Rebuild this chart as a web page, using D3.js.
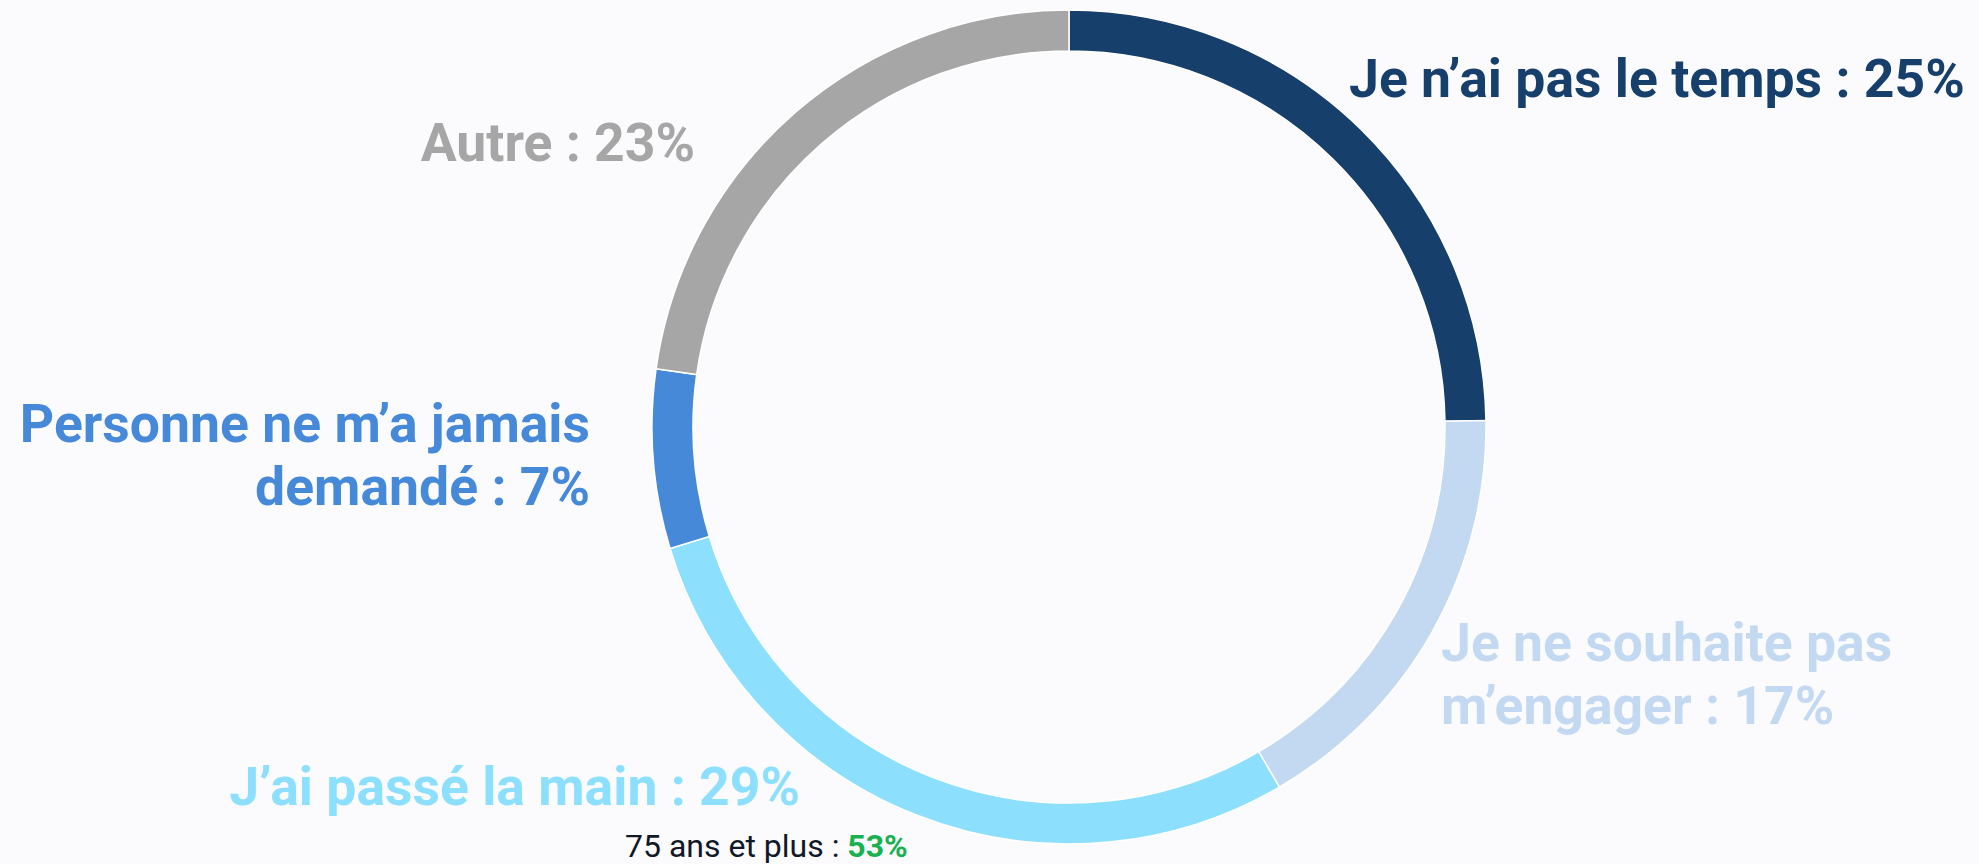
<!DOCTYPE html>
<html lang="fr">
<head>
<meta charset="utf-8">
<title>Raisons</title>
<script src="https://d3js.org/d3.v7.min.js"></script>
<style>
  html, body { margin: 0; padding: 0; background: #fbfbfe; }
  svg { display: block; }
  .lbl { font-family: Roboto, "Noto Sans", sans-serif; font-weight: 700; font-size: 53.5px; }
  .note { font-family: Roboto, "Noto Sans", sans-serif; font-size: 32px; fill: #111827; }
</style>
</head>
<body>
<svg width="1979" height="864"></svg>
<script>

// data, clockwise from 12 o'clock
var categories = ["Je n\u2019ai pas le temps", "Je ne souhaite pas m\u2019engager", "J\u2019ai passé la main", "Personne ne m\u2019a jamais demandé", "Autre"];
var values = [25, 17, 29, 7, 23];
var colors = ["#173f6b", "#c2d9f1", "#8cdffd", "#4689d8", "#a6a6a6"];
var noteLabel = "75 ans et plus : ";
var noteValue = 53;

var svg = d3.select("svg"),
    cx = 1069, cy = 427,
    outerR = 417, innerR = 376;

var data = categories.map(function(c, i) { return {name: c, value: values[i], color: colors[i]}; });

var pie = d3.pie().sort(null).value(function(d) { return d.value; });
var arc = d3.arc().innerRadius(innerR).outerRadius(outerR);

var g = svg.append("g").attr("transform", "translate(" + cx + "," + cy + ")");

g.selectAll("path")
  .data(pie(data))
  .enter().append("path")
    .attr("d", arc)
    .attr("fill", function(d) { return d.data.color; })
    .attr("stroke", "#ffffff")
    .attr("stroke-width", 1.5);

// label placement: lines split, anchor, position
var labelLayout = [
  {lines: ["Je n\u2019ai pas le temps : "], x: 1349, y: 97, anchor: "start"},
  {lines: ["Je ne souhaite pas", "m\u2019engager : "], x: 1441, y: 661, anchor: "start"},
  {lines: ["J\u2019ai passé la main : "], x: 800, y: 805, anchor: "end"},
  {lines: ["Personne ne m\u2019a jamais", "demandé : "], x: 590, y: 442, anchor: "end"},
  {lines: ["Autre : "], x: 695, y: 161, anchor: "end"}
];

data.forEach(function(d, i) {
  var L = labelLayout[i];
  var t = svg.append("text")
      .attr("class", "lbl")
      .attr("fill", d.color)
      .attr("text-anchor", L.anchor)
      .attr("x", L.x)
      .attr("y", L.y);
  L.lines.forEach(function(line, j) {
    var last = j === L.lines.length - 1;
    t.append("tspan")
      .attr("x", L.x)
      .attr("dy", j === 0 ? 0 : 63)
      .text(last ? line + d.value + "%" : line);
  });
});

var note = svg.append("text")
    .attr("class", "note")
    .attr("x", 625)
    .attr("y", 857);
note.append("tspan").text(noteLabel);
note.append("tspan")
    .attr("font-weight", 700)
    .attr("fill", "#19b14f")
    .text(noteValue + "%");

</script>
</body>
</html>
